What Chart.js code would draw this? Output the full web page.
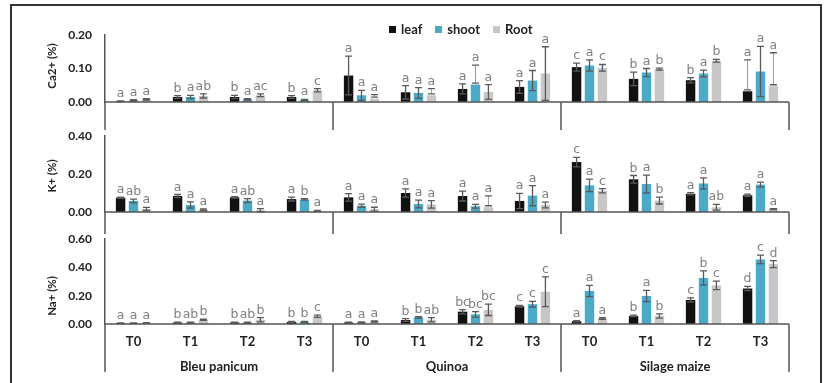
<!DOCTYPE html>
<html>
<head>
<meta charset="utf-8">
<script src="https://cdn.jsdelivr.net/npm/chart.js@4.4.0/dist/chart.umd.min.js"></script>
<style>
    body { margin: 0; background: #fff; }
    #pagina { position: relative; width: 825px; height: 383px; overflow: hidden; font-family: Lato, sans-serif; }
    #moldura { position: absolute; left: 10px; top: 4px; width: 808px; height: 430px; border: 2px solid #333; border-bottom: none; }
    canvas { position: absolute; left: 0; top: 0; }
    #legenda { position: absolute; left: 389px; top: 21px; display: flex; align-items: center; font: bold 13px Lato, sans-serif; color: #222; }
    #legenda span.q { display: inline-block; width: 7px; height: 7px; margin-right: 5px; }
    #legenda span.t { margin-right: 13px; }
</style>
</head>
<body>
<div id="pagina">
    <div id="moldura"></div>
    <canvas id="graficoCa" width="825" height="383"></canvas>
    <canvas id="graficoK" width="825" height="383"></canvas>
    <canvas id="graficoNa" width="825" height="383"></canvas>
    <div id="legenda">
        <span class="q" style="background:#111111"></span><span class="t">leaf</span>
        <span class="q" style="background:#4aaac8"></span><span class="t">shoot</span>
        <span class="q" style="background:#c9c6c6"></span><span class="t">Root</span>
    </div>
</div>

<script>
// =======================================
// CATEGORIES
// =======================================
let tratamentos = ["T0", "T1", "T2", "T3", "T0", "T1", "T2", "T3", "T0", "T1", "T2", "T3"];
let especies = ["Bleu panicum", "Quinoa", "Silage maize"];
let series = ["leaf", "shoot", "Root"];
let cores = ["#111111", "#4aaac8", "#c9c6c6"];

// =======================================
// Ca2+ (%)
// =======================================
let caLeaf = [0.002, 0.015, 0.015, 0.015, 0.079, 0.029, 0.039, 0.045, 0.104, 0.069, 0.065, 0.032];
let caLeafErr = [0.001, 0.004, 0.005, 0.004, 0.058, 0.020, 0.015, 0.019, 0.012, 0.020, 0.008, 0.094];
let caShoot = [0.005, 0.015, 0.008, 0.006, 0.020, 0.027, 0.052, 0.064, 0.109, 0.088, 0.085, 0.091];
let caShootErr = [0.002, 0.005, 0.002, 0.002, 0.015, 0.016, 0.058, 0.030, 0.017, 0.012, 0.010, 0.075];
let caRoot = [0.008, 0.018, 0.020, 0.035, 0.010, 0.020, 0.030, 0.085, 0.102, 0.098, 0.123, 0.047];
let caRootErr = [0.002, 0.006, 0.004, 0.005, 0.012, 0.020, 0.022, 0.080, 0.010, 0.003, 0.004, 0.100];
let caLeafLet = ["a", "b", "b", "b", "a", "a", "a", "a", "c", "b", "b", "a"];
let caShootLet = ["a", "a", "a", "a", "a", "a", "a", "a", "a", "a", "a", "a"];
let caRootLet = ["a", "ab", "ac", "c", "a", "a", "a", "a", "c", "b", "b", "a"];

// =======================================
// K+ (%)
// =======================================
let kLeaf = [0.075, 0.084, 0.077, 0.068, 0.077, 0.100, 0.084, 0.058, 0.263, 0.172, 0.096, 0.088];
let kLeafErr = [0.003, 0.008, 0.004, 0.010, 0.020, 0.022, 0.026, 0.040, 0.025, 0.020, 0.006, 0.006];
let kShoot = [0.058, 0.037, 0.060, 0.066, 0.033, 0.042, 0.030, 0.086, 0.140, 0.147, 0.150, 0.144];
let kShootErr = [0.010, 0.016, 0.010, 0.004, 0.008, 0.020, 0.010, 0.053, 0.033, 0.047, 0.030, 0.013];
let kRoot = [0.016, 0.012, 0.010, 0.006, 0.015, 0.040, 0.025, 0.037, 0.112, 0.060, 0.025, 0.015];
let kRootErr = [0.008, 0.004, 0.008, 0.002, 0.010, 0.020, 0.060, 0.015, 0.011, 0.018, 0.015, 0.002];
let kLeafLet = ["a", "a", "a", "a", "a", "a", "a", "a", "c", "b", "a", "a"];
let kShootLet = ["ab", "a", "ab", "b", "a", "a", "a", "a", "a", "a", "a", "a"];
let kRootLet = ["a", "a", "a", "a", "a", "a", "a", "a", "c", "b", "ab", "a"];

// =======================================
// Na+ (%)
// =======================================
let naLeaf = [0.005, 0.010, 0.010, 0.015, 0.010, 0.028, 0.087, 0.125, 0.020, 0.057, 0.170, 0.250];
let naLeafErr = [0.002, 0.003, 0.003, 0.004, 0.003, 0.010, 0.015, 0.006, 0.004, 0.005, 0.015, 0.015];
let naShoot = [0.005, 0.010, 0.010, 0.015, 0.012, 0.047, 0.068, 0.140, 0.233, 0.198, 0.325, 0.456];
let naShootErr = [0.002, 0.003, 0.003, 0.003, 0.003, 0.005, 0.020, 0.020, 0.040, 0.040, 0.050, 0.030];
let naRoot = [0.008, 0.030, 0.030, 0.055, 0.018, 0.030, 0.100, 0.228, 0.038, 0.057, 0.273, 0.423];
let naRootErr = [0.002, 0.004, 0.015, 0.008, 0.004, 0.015, 0.040, 0.105, 0.006, 0.015, 0.030, 0.025];
let naLeafLet = ["a", "b", "b", "b", "a", "b", "bc", "c", "a", "b", "c", "d"];
let naShootLet = ["a", "ab", "ab", "b", "a", "b", "bc", "c", "a", "a", "b", "c"];
let naRootLet = ["a", "b", "b", "c", "a", "ab", "bc", "c", "a", "b", "c", "d"];

// =======================================
// PLUGIN: ERROR BARS, LETTERS, AXIS LINES
// =======================================
const painelPlugin = {
    id: "painel",
    afterDatasetsDraw(chart, args, opts) {
        let ctx = chart.ctx;
        let x = chart.scales.x;
        let y = chart.scales.y;
        let area = chart.chartArea;
        let y0 = y.getPixelForValue(0);

        ctx.save();

        // barras de erro + letras
        chart.data.datasets.forEach((ds, i) => {
            let meta = chart.getDatasetMeta(i);
            meta.data.forEach((bar, j) => {
                let v = ds.data[j];
                let e = ds.erro[j];
                let yt = y.getPixelForValue(v + e);
                // erro maior que o valor: so a parte de cima, com o traço no topo da barra
                let yb = (v - e > 0) ? y.getPixelForValue(v - e) : y.getPixelForValue(v) - 1.5;
                ctx.strokeStyle = (v - e > 0) ? "#5a5a5a" : "#9a9a9a";
                ctx.lineWidth = (v - e > 0) ? 1.3 : 1;
                ctx.beginPath();
                ctx.moveTo(bar.x, yt);
                ctx.lineTo(bar.x, yb);
                ctx.stroke();
                ctx.strokeStyle = "#5a5a5a";
                ctx.lineWidth = 1.3;
                ctx.beginPath();
                ctx.moveTo(bar.x - 3.5, yt);
                ctx.lineTo(bar.x + 3.5, yt);
                ctx.moveTo(bar.x - 3.5, yb);
                ctx.lineTo(bar.x + 3.5, yb);
                ctx.stroke();

                ctx.fillStyle = "#808080";
                ctx.font = "12.5px 'DejaVu Sans'";
                ctx.textAlign = "center";
                ctx.textBaseline = "alphabetic";
                ctx.fillText(ds.letras[j], bar.x, yt - 4);
            });
        });

        // linha base e separadores
        let sep = [0, 4, 8, 12];
        let passo = (x.getPixelForValue(1) - x.getPixelForValue(0));
        ctx.strokeStyle = "#555";
        ctx.lineWidth = 1.5;
        ctx.beginPath();
        ctx.moveTo(area.left, y0);
        ctx.lineTo(area.right, y0);
        sep.forEach(k => {
            let px = x.getPixelForValue(0) - passo / 2 + k * passo;
            ctx.moveTo(px, y0);
            ctx.lineTo(px, y0 + opts.extensao);
        });
        ctx.stroke();

        // titulo do eixo y
        ctx.fillStyle = "#222";
        ctx.font = "bold 11.5px Lato";
        ctx.textAlign = "center";
        ctx.textBaseline = "middle";
        ctx.translate(52, opts.tituloY);
        ctx.rotate(-Math.PI / 2);
        ctx.fillText(opts.titulo, 0, 0);
        ctx.setTransform(1, 0, 0, 1, 0, 0);

        // rotulos das categorias (so no ultimo painel)
        if (opts.rotulos) {
            ctx.fillStyle = "#222";
            ctx.font = "bold 13px Lato";
            ctx.textAlign = "center";
            tratamentos.forEach((t, k) => {
                ctx.fillText(t, x.getPixelForValue(k), y0 + 18);
            });
            especies.forEach((s, k) => {
                let c = (x.getPixelForValue(k * 4 + 1) + x.getPixelForValue(k * 4 + 2)) / 2;
                ctx.fillText(s, c, y0 + 43);
            });
        }

        ctx.restore();
    }
};

// =======================================
// FUNÇÃO QUE MONTA UM PAINEL
// =======================================
function criarPainel(id, dados, erros, letras, maximo, passoY, topo, base, titulo, tituloY, extensao, rotulos) {
    new Chart(document.getElementById(id), {
        type: "bar",
        data: {
            labels: tratamentos,
            datasets: series.map((nome, i) => ({
                label: nome,
                data: dados[i],
                erro: erros[i],
                letras: letras[i],
                backgroundColor: cores[i],
                categoryPercentage: 0.68,
                barPercentage: 0.73
            }))
        },
        options: {
            responsive: false,
            animation: false,
            layout: { padding: { left: 0, right: 36, top: topo, bottom: 383 - base } },
            plugins: {
                legend: { display: false },
                tooltip: { enabled: false },
                painel: { titulo: titulo, tituloY: tituloY, extensao: extensao, rotulos: rotulos }
            },
            scales: {
                x: { display: false },
                y: {
                    min: 0,
                    max: maximo,
                    afterFit: s => { s.width = 105; },
                    grid: { display: false, drawTicks: false },
                    border: { display: true, color: "#555", width: 1.5 },
                    ticks: {
                        stepSize: passoY,
                        padding: 13,
                        color: "#222",
                        font: { family: "Lato", weight: "bold", size: 12 },
                        callback: v => v.toFixed(2)
                    }
                }
            }
        },
        plugins: [painelPlugin]
    });
}

window.onload = function () {
    criarPainel("graficoCa",
        [caLeaf, caShoot, caRoot], [caLeafErr, caShootErr, caRootErr], [caLeafLet, caShootLet, caRootLet],
        0.2, 0.1, 35, 102, "Ca2+ (%)", 66, 28, false);
    criarPainel("graficoK",
        [kLeaf, kShoot, kRoot], [kLeafErr, kShootErr, kRootErr], [kLeafLet, kShootLet, kRootLet],
        0.4, 0.2, 136, 212, "K+ (%)", 176, 22, false);
    criarPainel("graficoNa",
        [naLeaf, naShoot, naRoot], [naLeafErr, naShootErr, naRootErr], [naLeafLet, naShootLet, naRootLet],
        0.6, 0.2, 239, 324, "Na+ (%)", 296, 48, true);
};
</script>
</body>
</html>
